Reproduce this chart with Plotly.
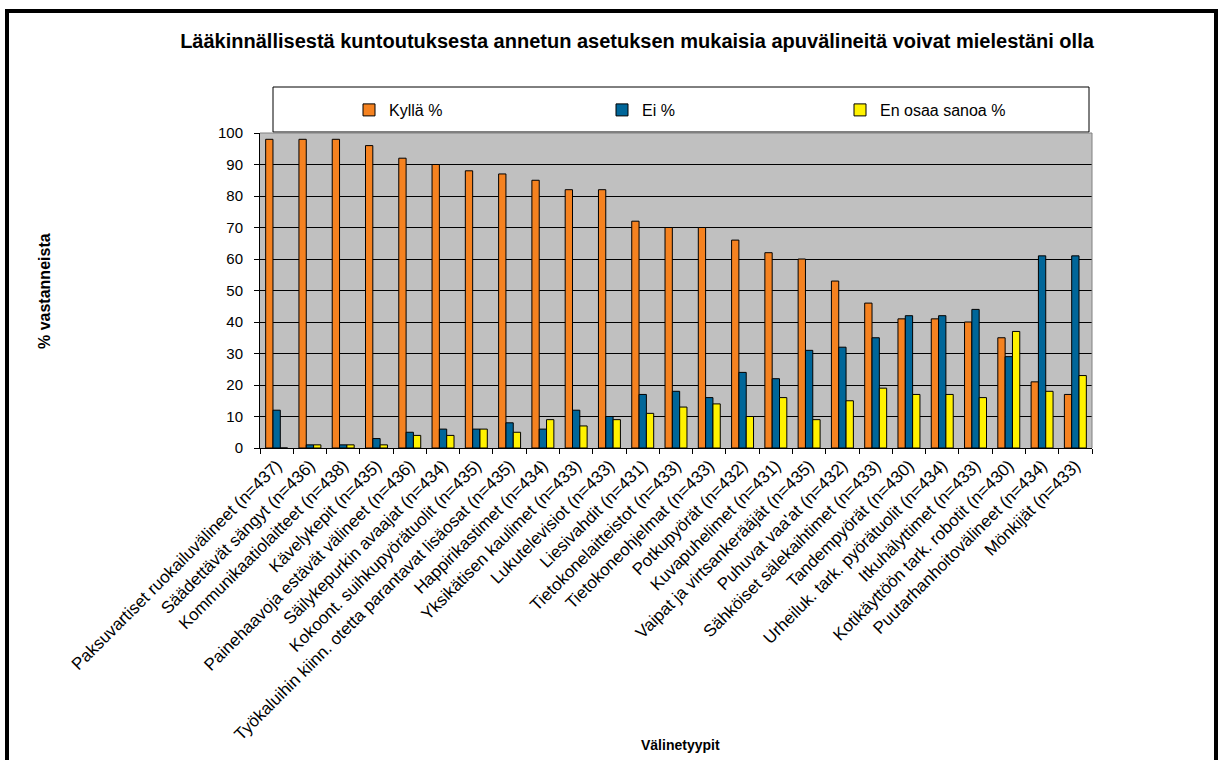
import plotly.graph_objects as go

# Category labels (device types with respondent counts)
categories = [
    "Paksuvartiset ruokailuvälineet (n=437)",
    "Säädettävät sängyt (n=436)",
    "Kommunikaatiolaitteet (n=438)",
    "Kävelykepit (n=435)",
    "Painehaavoja estävät välineet (n=436)",
    "Säilykepurkin avaajat (n=434)",
    "Kokoont. suihkupyörätuolit (n=435)",
    "Työkaluihin kiinn. otetta parantavat lisäosat (n=435)",
    "Happirikastimet (n=434)",
    "Yksikätisen kaulimet (n=433)",
    "Lukutelevisiot (n=433)",
    "Liesivahdit (n=431)",
    "Tietokonelaitteistot (n=433)",
    "Tietokoneohjelmat (n=433)",
    "Potkupyörät (n=432)",
    "Kuvapuhelimet (n=431)",
    "Vaipat ja virtsankerääjät (n=435)",
    "Puhuvat vaa'at (n=432)",
    "Sähköiset sälekaihtimet (n=433)",
    "Tandempyörät (n=430)",
    "Urheiluk. tark. pyörätuolit (n=434)",
    "Itkuhälyttimet (n=433)",
    "Kotikäyttöön tark. robotit (n=430)",
    "Puutarhanhoitovälineet (n=434)",
    "Mönkijät (n=433)",
]

kylla = [98, 98, 98, 96, 92, 90, 88, 87, 85, 82, 82, 72, 70, 70, 66, 62, 60, 53, 46, 41, 41, 40, 35, 21, 17]
ei = [12, 1, 1, 3, 5, 6, 6, 8, 6, 12, 10, 17, 18, 16, 24, 22, 31, 32, 35, 42, 42, 44, 29, 61, 61]
en_osaa = [0, 1, 1, 1, 4, 4, 6, 5, 9, 7, 9, 11, 13, 14, 10, 16, 9, 15, 19, 17, 17, 16, 37, 18, 23]

series_names = ["Kyllä %", "Ei %", "En osaa sanoa %"]
series_colors = ["#F58220", "#006699", "#FFF200"]

y_ticks = [0, 10, 20, 30, 40, 50, 60, 70, 80, 90, 100]

FONT = "Arial, 'Liberation Sans', sans-serif"
W, H = 1221, 760
# plot area in pixels
PL, PR, PT, PB = 260, 1092, 133, 448


def px_x(p):
    return (p - PL) / (PR - PL)


def px_y(p):
    return (PB - p) / (PB - PT)


fig = go.Figure()
legend_ids = ["legend", "legend2", "legend3"]
for name, vals, color, lg in zip(series_names, [kylla, ei, en_osaa], series_colors, legend_ids):
    fig.add_trace(go.Bar(
        x=categories, y=vals, name=name,
        marker=dict(color=color, line=dict(color="#000000", width=1)),
        legend=lg, showlegend=True,
    ))

legend_common = dict(
    orientation="h", yanchor="middle", xanchor="left",
    bgcolor="rgba(0,0,0,0)", borderwidth=0,
    font=dict(family=FONT, size=16, color="#000000"),
)

fig.update_layout(
    width=W, height=H,
    margin=dict(l=PL, r=W - PR, t=PT, b=H - PB, autoexpand=False),
    paper_bgcolor="#FFFFFF",
    plot_bgcolor="#C0C0C0",
    barmode="group",
    bargap=0.34,
    bargroupgap=0,
    showlegend=True,
    title=dict(
        text="<b>Lääkinnällisestä kuntoutuksesta annetun asetuksen mukaisia apuvälineitä voivat mielestäni olla</b>",
        x=637 / W, xanchor="center", y=1 - 41 / H, yanchor="middle",
        font=dict(family=FONT, size=20, color="#000000"),
    ),
    legend=dict(legend_common, x=px_x(349), y=px_y(110)),
    legend2=dict(legend_common, x=px_x(602), y=px_y(110)),
    legend3=dict(legend_common, x=px_x(840), y=px_y(110)),
    xaxis=dict(
        tickangle=-45,
        tickfont=dict(family=FONT, size=17, color="#000000"),
        ticks="outside", tickson="boundaries", ticklen=5, tickcolor="#000000",
        showline=True, linecolor="#000000", linewidth=1,
        showgrid=False, automargin=False,
    ),
    yaxis=dict(
        range=[0, 100], tickvals=y_ticks,
        tickfont=dict(family=FONT, size=15, color="#000000"),
        ticks="outside", ticklen=5, tickcolor="#000000",
        ticklabelstandoff=8,
        showline=True, linecolor="#000000", linewidth=1,
        showgrid=True, gridcolor="#000000", gridwidth=1,
        zeroline=False, automargin=False,
    ),
    shapes=[
        # outer chart frame
        dict(type="rect", xref="paper", yref="paper",
             x0=px_x(7), x1=px_x(1216), y0=px_y(800), y1=px_y(11),
             line=dict(color="#000000", width=4), fillcolor="rgba(0,0,0,0)", layer="below"),
        # legend box
        dict(type="rect", xref="paper", yref="paper",
             x0=px_x(273), x1=px_x(1089), y0=px_y(132), y1=px_y(87),
             line=dict(color="#000000", width=1), fillcolor="#FFFFFF", layer="below"),
        # top and right plot-area border
        dict(type="path", xref="paper", yref="paper",
             path="M 0 1 L 1 1 L 1 0",
             line=dict(color="#808080", width=1)),
    ],
    annotations=[
        dict(text="<b>% vastanneista</b>", xref="paper", yref="paper",
             x=px_x(44), y=px_y(291), textangle=-90, showarrow=False,
             xanchor="center", yanchor="middle",
             font=dict(family=FONT, size=16, color="#000000")),
        dict(text="<b>Välinetyypit</b>", xref="paper", yref="paper",
             x=px_x(680), y=px_y(745), showarrow=False,
             xanchor="center", yanchor="middle",
             font=dict(family=FONT, size=14, color="#000000")),
    ],
)

fig.write_html("out.html")
